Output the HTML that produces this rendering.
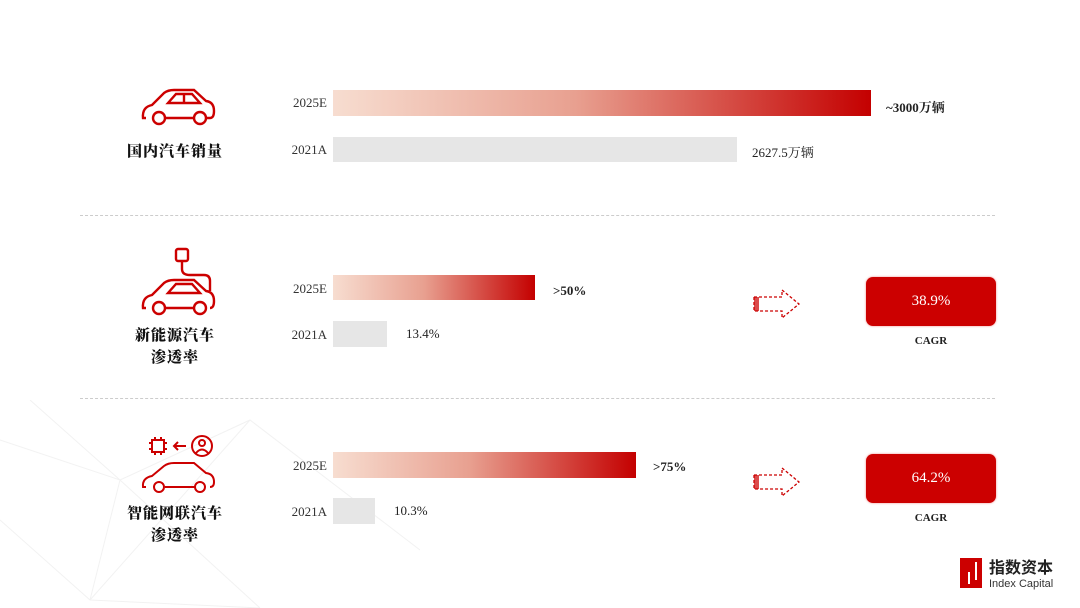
<!DOCTYPE html>
<html><head><meta charset="utf-8"><style>
body{margin:0;width:1080px;height:608px;background:#fff;position:relative;overflow:hidden;font-family:"Liberation Serif","Noto Serif CJK SC",serif;}
.a{position:absolute;}
.yr{font-size:13px;color:#333;width:60px;text-align:right;}
.g{background:linear-gradient(90deg,#f7ddd0,#e8a090 45%,#c40000);}
.gr{background:#e6e6e6;}
.v{font-size:13px;color:#222;}
.b{font-weight:bold;font-family:"Liberation Serif","Noto Serif CJK SC",serif;}
.cn{font-family:"Noto Serif CJK SC",serif;font-weight:900;font-size:15px;color:#111;text-align:center;width:140px;left:105px;line-height:22px;letter-spacing:1px;}
.dash{border-top:1px dashed #ccc;left:80px;width:915px;height:0;}
.box{left:866px;width:130px;height:49px;background:#cc0000;border-radius:7px;color:#fff;font-size:15px;text-align:center;line-height:49px;box-shadow:0 0 2px #e88;}
.cagr{left:866px;width:130px;text-align:center;font-size:11px;font-weight:bold;color:#222;}
</style></head><body>
<svg class="a" style="left:0;top:400px" width="420" height="208"><g stroke="#f2f2f2" stroke-width="1" fill="none"><path d="M0 40L120 80L250 20L420 150M120 80L90 200L250 20M0 120L90 200L260 208M120 80L260 208M30 0L120 80"/></g></svg>
<svg class="a" style="left:140px;top:85px" width="80" height="45" viewBox="0 0 80 45"><g fill="none" stroke="#c00" stroke-width="2.4"><path d="M6 33H3Q2 22 12 20L24 8Q28 5 34 5H54L66 16Q74 17 74 26Q74 33 70 33H65M55 33H25"/><circle cx="19" cy="33" r="6"/><circle cx="60" cy="33" r="6"/><path d="M28 18L36 9H52L60 18Z"/><path d="M44 9V18"/></g></svg>
<div class="a cn" style="top:140px">国内汽车销量</div>
<div class="a yr" style="left:267px;top:95px">2025E</div>
<div class="a g" style="left:333px;top:90px;width:538px;height:26px"></div>
<div class="a v b" style="left:886px;top:97px">~3000万辆</div>
<div class="a yr" style="left:267px;top:142px">2021A</div>
<div class="a gr" style="left:333px;top:137px;width:404px;height:25px"></div>
<div class="a v" style="left:752px;top:142px">2627.5万辆</div>
<div class="a dash" style="top:215px"></div>
<svg class="a" style="left:140px;top:245px" width="80" height="75" viewBox="0 0 80 75"><g fill="none" stroke="#c00" stroke-width="2.4"><rect x="36" y="4" width="12" height="12" rx="2"/><path d="M42 16V24Q42 30 50 30H64Q70 30 70 36V46"/><path d="M6 63H3Q2 52 12 50L24 38Q28 35 34 35H54L66 46Q74 47 74 56Q74 63 70 63M55 63H25"/><circle cx="19" cy="63" r="6"/><circle cx="60" cy="63" r="6"/><path d="M28 48L36 39H52L60 48Z"/></g></svg>
<div class="a cn" style="top:324px">新能源汽车<br>渗透率</div>
<div class="a yr" style="left:267px;top:281px">2025E</div>
<div class="a g" style="left:333px;top:275px;width:202px;height:25px"></div>
<div class="a v b" style="left:553px;top:283px">&gt;50%</div>
<div class="a yr" style="left:267px;top:327px">2021A</div>
<div class="a gr" style="left:333px;top:321px;width:54px;height:26px"></div>
<div class="a v" style="left:406px;top:326px">13.4%</div>
<svg class="a" style="left:752px;top:288px" width="50" height="32"><path d="M2 9H30V2L47 16L30 30V23H2Z" fill="none" stroke="#c00" stroke-width="1.3" stroke-dasharray="3 2"/><rect x="2" y="9" width="5" height="14" fill="#c00" opacity=".7"/></svg>
<div class="a box" style="top:277px">38.9%</div>
<div class="a cagr" style="top:335px">CAGR</div>
<div class="a dash" style="top:398px"></div>
<svg class="a" style="left:140px;top:432px" width="80" height="62" viewBox="0 0 80 62"><g fill="none" stroke="#c00" stroke-width="2"><rect x="12" y="8" width="12" height="12"/><path d="M15 5v3M21 5v3M15 20v3M21 20v3M9 11h3M9 17h3M24 11h3M24 17h3"/><path d="M46 14H34M38 10L34 14L38 18"/><circle cx="62" cy="14" r="10"/><circle cx="62" cy="11" r="3"/><path d="M56 21Q62 14 68 21"/><path d="M6 55H3Q2 46 12 44L24 34Q28 31 34 31H54L66 41Q74 42 74 50Q74 55 70 55M55 55H25"/><circle cx="19" cy="55" r="5"/><circle cx="60" cy="55" r="5"/></g></svg>
<div class="a cn" style="top:502px">智能网联汽车<br>渗透率</div>
<div class="a yr" style="left:267px;top:458px">2025E</div>
<div class="a g" style="left:333px;top:452px;width:303px;height:26px"></div>
<div class="a v b" style="left:653px;top:459px">&gt;75%</div>
<div class="a yr" style="left:267px;top:504px">2021A</div>
<div class="a gr" style="left:333px;top:498px;width:42px;height:26px"></div>
<div class="a v" style="left:394px;top:503px">10.3%</div>
<svg class="a" style="left:752px;top:466px" width="50" height="32"><path d="M2 9H30V2L47 16L30 30V23H2Z" fill="none" stroke="#c00" stroke-width="1.3" stroke-dasharray="3 2"/><rect x="2" y="9" width="5" height="14" fill="#c00" opacity=".7"/></svg>
<div class="a box" style="top:454px">64.2%</div>
<div class="a cagr" style="top:512px">CAGR</div>
<div class="a" style="left:960px;top:558px;width:22px;height:30px;background:#c00"></div>
<div class="a" style="left:968px;top:572px;width:2px;height:12px;background:#fff"></div>
<div class="a" style="left:975px;top:562px;width:2px;height:18px;background:#fff"></div>
<div class="a" style="left:989px;top:556px;font-family:'Noto Sans CJK SC',sans-serif;font-weight:bold;font-size:16px;color:#222;line-height:20px">指数资本</div>
<div class="a" style="left:989px;top:578px;font-family:'Liberation Sans',sans-serif;font-size:11px;color:#333">Index Capital</div>
</body></html>
